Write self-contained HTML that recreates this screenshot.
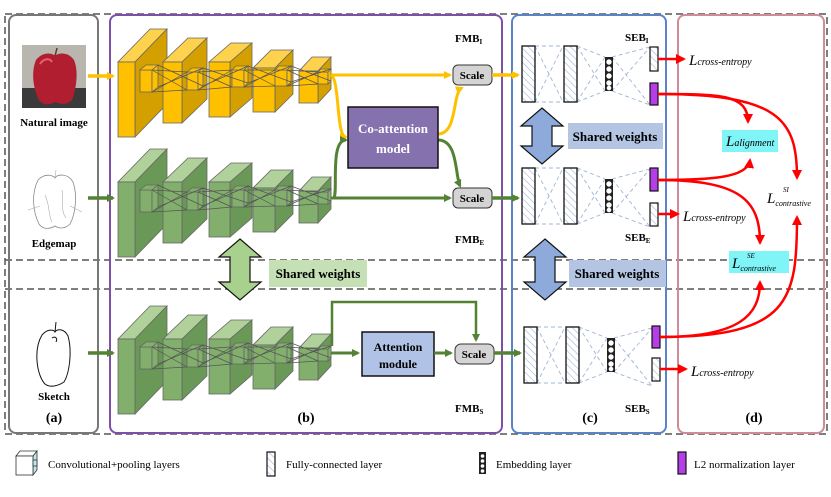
<!DOCTYPE html>
<html><head><meta charset="utf-8"><style>
html,body{margin:0;padding:0;background:#fff}
svg{display:block}
text{font-family:"Liberation Serif",serif}
.b{font-weight:bold}
</style></head><body>
<svg width="831" height="497" viewBox="0 0 831 497" xmlns="http://www.w3.org/2000/svg">
<defs>
<marker id="ay" markerWidth="8" markerHeight="8" refX="6" refY="4" orient="auto" markerUnits="userSpaceOnUse"><path d="M0,0 L8,4 L0,8 Z" fill="#ffc000"/></marker>
<marker id="ag" markerWidth="8" markerHeight="8" refX="6" refY="4" orient="auto" markerUnits="userSpaceOnUse"><path d="M0,0 L8,4 L0,8 Z" fill="#548235"/></marker>
<marker id="ar" markerWidth="10" markerHeight="10" refX="8" refY="5" orient="auto" markerUnits="userSpaceOnUse"><path d="M0,0 L10,5 L0,10 Z" fill="#ff0000"/></marker>
<pattern id="hatch" width="5" height="5" patternUnits="userSpaceOnUse" patternTransform="rotate(-45)"><rect width="5" height="5" fill="#fff"/><line x1="0" y1="0" x2="0" y2="5" stroke="#9fb4d8" stroke-width="1.2"/></pattern>
<g id="blocks" stroke="#666" stroke-width="0.8">
 <polygon points="118,62 135,62 167,29 150,29" style="fill:var(--t)"/><polygon points="135,62 167,29 167,104 135,137" style="fill:var(--s)"/><rect x="118" y="62" width="17" height="75" style="fill:var(--f)"/>
 <polygon points="163,62 182,62 207,38 188,38" style="fill:var(--t)"/><polygon points="182,62 207,38 207,99 182,123" style="fill:var(--s)"/><rect x="163" y="62" width="19" height="61" style="fill:var(--f)"/>
 <polygon points="209,62 230,62 252,43 231,43" style="fill:var(--t)"/><polygon points="230,62 252,43 252,98 230,117" style="fill:var(--s)"/><rect x="209" y="62" width="21" height="55" style="fill:var(--f)"/>
 <polygon points="253,68 275,68 293,50 271,50" style="fill:var(--t)"/><polygon points="275,68 293,50 293,94 275,112" style="fill:var(--s)"/><rect x="253" y="68" width="22" height="44" style="fill:var(--f)"/>
 <polygon points="299,71 318,71 331,57 312,57" style="fill:var(--t)"/><polygon points="318,71 331,57 331,89 318,103" style="fill:var(--s)"/><rect x="299" y="71" width="19" height="32" style="fill:var(--f)"/>
 <g style="fill:var(--f)">
 <rect x="140" y="70" width="12" height="22"/><polygon points="140,70 152,70 158,65 146,65"/><polygon points="152,70 158,65 158,87 152,92"/>
 <rect x="187" y="72" width="11" height="18"/><polygon points="187,72 198,72 203,68 192,68"/><polygon points="198,72 203,68 203,86 198,90"/>
 <rect x="232" y="70" width="12" height="17"/><polygon points="232,70 244,70 248,66 236,66"/><polygon points="244,70 248,66 248,83 244,87"/>
 <rect x="275" y="70" width="12" height="16"/><polygon points="275,70 287,70 291,66 279,66"/><polygon points="287,70 291,66 291,82 287,86"/>
 <rect x="318" y="72" width="10" height="12"/><polygon points="318,72 328,72 331,69 321,69"/><polygon points="328,72 331,69 331,81 328,84"/>
 </g>
 <g fill="none" stroke="#555" stroke-width="0.7">
 <path d="M152,70 L187,72 M152,92 L187,90 M152,70 L187,90 M152,92 L187,72 M158,65 L203,86 M158,87 L203,68"/>
 <path d="M198,72 L232,70 M198,90 L232,87 M198,72 L232,87 M198,90 L232,70 M203,68 L248,83 M203,86 L248,66"/>
 <path d="M244,70 L275,70 M244,87 L275,86 M244,70 L275,86 M244,87 L275,70 M248,66 L291,82 M248,83 L291,66"/>
 <path d="M287,70 L318,72 M287,86 L318,84 M287,70 L318,84 M287,86 L318,72 M291,66 L331,81 M291,82 L331,69"/>
 </g>
</g>
<g id="seb">
 <g stroke="#9fb4d8" stroke-width="0.9" stroke-dasharray="4,3" fill="none">
 <path d="M535,46 L563,46 M535,102 L563,102 M535,46 L563,102 M535,102 L563,46"/>
 <path d="M577,46 L605,57 M577,102 L605,91 M577,46 L605,91 M577,102 L605,57"/>
 <path d="M612,57 L650,47 M612,91 L650,105 M612,57 L650,105 M612,91 L650,47"/>
 </g>
 <rect x="522" y="46" width="13" height="56" fill="url(#hatch)" stroke="#111" stroke-width="1.3"/>
 <rect x="564" y="46" width="13" height="56" fill="url(#hatch)" stroke="#111" stroke-width="1.3"/>
 <rect x="605" y="57" width="8" height="34" fill="#222"/>
 <g fill="#fff" stroke="#fff"><circle cx="609" cy="62" r="2.2"/><circle cx="609" cy="69" r="2.2"/><circle cx="609" cy="76" r="2.2"/><circle cx="609" cy="83" r="2.2"/><circle cx="609" cy="88" r="1.8"/></g>
</g>
</defs>

<!-- outer dashed -->
<rect x="5" y="14" width="822" height="420" fill="none" stroke="#555" stroke-width="1.5" stroke-dasharray="7,4"/>
<line x1="5" y1="260" x2="827" y2="260" stroke="#555" stroke-width="1.5" stroke-dasharray="7,4"/>
<line x1="5" y1="289" x2="827" y2="289" stroke="#555" stroke-width="1.5" stroke-dasharray="7,4"/>

<!-- panels -->
<rect x="9" y="15" width="89" height="418" rx="7" fill="none" stroke="#777" stroke-width="2"/>
<rect x="110" y="15" width="392" height="418" rx="7" fill="none" stroke="#7e4fa8" stroke-width="2"/>
<rect x="512" y="15" width="154" height="418" rx="7" fill="none" stroke="#5b83c9" stroke-width="2"/>
<rect x="678" y="15" width="146" height="418" rx="7" fill="none" stroke="#d08a98" stroke-width="2"/>

<!-- images -->
<rect x="22" y="45" width="64" height="63" fill="#b9b6b0"/>
<rect x="22" y="88" width="64" height="20" fill="#3a3a3a"/>
<path d="M36,60 C44,50 54,54 55,56 C57,53 68,51 74,60 C79,72 76,90 72,100 C66,106 60,104 55,102 C50,105 43,106 39,100 C33,88 31,72 36,60 Z" fill="#b01e2f"/>
<path d="M40,64 C44,58 50,58 52,62" stroke="#e86070" stroke-width="2" fill="none"/>
<line x1="55" y1="56" x2="57" y2="48" stroke="#5a3a20" stroke-width="1.5"/>
<text x="54" y="126" font-size="11" text-anchor="middle" class="b">Natural image</text>
<path d="M38,180 C46,172 54,176 55,178 C57,174 68,173 73,182 C78,196 75,215 70,224 C64,230 58,228 55,226 C50,229 43,230 39,224 C33,212 31,194 38,180 Z" fill="none" stroke="#888" stroke-width="0.8"/>
<path d="M55,178 L56,170 M45,195 C50,205 48,215 52,222 M62,190 C64,200 60,210 66,218 M28,210 L40,206 M70,206 L82,212" stroke="#aaa" stroke-width="0.6" fill="none"/>
<text x="54" y="247" font-size="11" text-anchor="middle" class="b">Edgemap</text>
<path d="M42,335 C48,328 54,330 55,332 C57,329 64,328 68,336 C72,350 70,372 64,382 C58,386 50,388 45,384 C37,376 33,350 42,335 Z" fill="none" stroke="#111" stroke-width="1"/>
<path d="M55,332 L56,322 M52,338 C55,336 58,338 56,342" stroke="#111" stroke-width="1" fill="none"/>
<text x="54" y="400" font-size="11" text-anchor="middle" class="b">Sketch</text>
<text x="54" y="422" font-size="14" text-anchor="middle" class="b">(a)</text>

<!-- input arrows -->
<line x1="88" y1="76" x2="113" y2="76" stroke="#ffc000" stroke-width="3.5" marker-end="url(#ay)"/>
<line x1="88" y1="198" x2="113" y2="198" stroke="#548235" stroke-width="3.5" marker-end="url(#ag)"/>
<line x1="88" y1="353" x2="113" y2="353" stroke="#548235" stroke-width="3.5" marker-end="url(#ag)"/>

<!-- blocks -->
<use href="#blocks" style="--f:#ffc000;--s:#d4a000;--t:#ffd24d"/>
<use href="#blocks" transform="translate(0,120)" style="--f:#82b06c;--s:#6a9857;--t:#b0d29a"/>
<use href="#blocks" transform="translate(0,277)" style="--f:#82b06c;--s:#6a9857;--t:#b0d29a"/>

<!-- FMB flows -->
<path d="M331,75 L450,75" stroke="#ffc000" stroke-width="3" fill="none" marker-end="url(#ay)"/>
<path d="M331,75 C340,80 336,137 346,137" stroke="#ffc000" stroke-width="3" fill="none" marker-end="url(#ay)"/>
<path d="M438,134 C458,134 452,92 462,88" stroke="#ffc000" stroke-width="3" fill="none" marker-end="url(#ay)"/>
<path d="M331,198 L450,198" stroke="#548235" stroke-width="3" fill="none" marker-end="url(#ag)"/>
<path d="M334,198 C338,190 330,140 346,140" stroke="#548235" stroke-width="3" fill="none" marker-end="url(#ag)"/>
<path d="M438,140 C458,140 455,175 460,186" stroke="#548235" stroke-width="3" fill="none" marker-end="url(#ag)"/>
<rect x="348" y="107" width="90" height="61" fill="#8571ae" stroke="#111" stroke-width="1.5"/>
<text x="393" y="133" font-size="13" fill="#fff" text-anchor="middle" class="b">Co-attention</text>
<text x="393" y="153" font-size="13" fill="#fff" text-anchor="middle" class="b">model</text>
<rect x="453" y="65" width="39" height="20" rx="5" fill="#d4d4d4" stroke="#333"/>
<text x="472" y="79" font-size="11" text-anchor="middle" class="b">Scale</text>
<rect x="453" y="188" width="39" height="20" rx="5" fill="#d4d4d4" stroke="#333"/>
<text x="472" y="202" font-size="11" text-anchor="middle" class="b">Scale</text>
<text x="455" y="42" font-size="11" class="b">FMB<tspan font-size="7" dy="2">I</tspan></text>
<text x="455" y="243" font-size="11" class="b">FMB<tspan font-size="7" dy="2">E</tspan></text>

<!-- shared weights (b) -->
<polygon points="240,239 261,257 250,257 250,282 261,282 240,300 219,282 230,282 230,257 219,257" fill="#a9d18e" stroke="#111" stroke-width="1.2"/>
<rect x="269" y="260" width="98" height="27" fill="#c5e0b4"/>
<text x="318" y="278" font-size="13" text-anchor="middle" class="b">Shared weights</text>

<!-- sketch flow -->
<path d="M332,346 L332,302 L476,302 L476,340" stroke="#548235" stroke-width="2.5" fill="none" marker-end="url(#ag)"/>
<line x1="331" y1="353" x2="358" y2="353" stroke="#548235" stroke-width="3" marker-end="url(#ag)"/>
<rect x="362" y="332" width="72" height="44" fill="#b0c3e6" stroke="#111" stroke-width="1.5"/>
<text x="398" y="351" font-size="12" text-anchor="middle" class="b">Attention</text>
<text x="398" y="368" font-size="12" text-anchor="middle" class="b">module</text>
<line x1="434" y1="353" x2="451" y2="353" stroke="#548235" stroke-width="3" marker-end="url(#ag)"/>
<rect x="455" y="344" width="39" height="20" rx="6" fill="#d4d4d4" stroke="#333"/>
<text x="474" y="358" font-size="11" text-anchor="middle" class="b">Scale</text>
<text x="455" y="412" font-size="11" class="b">FMB<tspan font-size="7" dy="2">S</tspan></text>
<text x="306" y="422" font-size="14" text-anchor="middle" class="b">(b)</text>

<!-- outputs to SEB -->
<line x1="492" y1="75" x2="518" y2="75" stroke="#ffc000" stroke-width="3.5" marker-end="url(#ay)"/>
<line x1="492" y1="198" x2="518" y2="198" stroke="#548235" stroke-width="3.5" marker-end="url(#ag)"/>
<line x1="494" y1="353" x2="520" y2="353" stroke="#548235" stroke-width="3.5" marker-end="url(#ag)"/>

<!-- SEB -->
<use href="#seb"/>
<rect x="650" y="47" width="8" height="24" fill="url(#hatch)" stroke="#111" stroke-width="1.2"/>
<rect x="650" y="83" width="8" height="22" fill="#b63ee8" stroke="#111" stroke-width="1.2"/>
<use href="#seb" transform="translate(0,122)"/>
<rect x="650" y="168" width="8" height="23" fill="#b63ee8" stroke="#111" stroke-width="1.2"/>
<rect x="650" y="203" width="8" height="23" fill="url(#hatch)" stroke="#111" stroke-width="1.2"/>
<use href="#seb" transform="translate(2,281)"/>
<rect x="652" y="326" width="8" height="22" fill="#b63ee8" stroke="#111" stroke-width="1.2"/>
<rect x="652" y="358" width="8" height="23" fill="url(#hatch)" stroke="#111" stroke-width="1.2"/>
<text x="625" y="41" font-size="11" class="b">SEB<tspan font-size="7" dy="2">I</tspan></text>
<text x="625" y="241" font-size="11" class="b">SEB<tspan font-size="7" dy="2">E</tspan></text>
<text x="625" y="412" font-size="11" class="b">SEB<tspan font-size="7" dy="2">S</tspan></text>
<text x="590" y="422" font-size="14" text-anchor="middle" class="b">(c)</text>

<polygon points="542,108 563,126 552,126 552,146 563,146 542,164 521,146 532,146 532,126 521,126" fill="#8eaadb" stroke="#111" stroke-width="1.2"/>
<rect x="568" y="123" width="95" height="26" fill="#b4c5e4"/>
<text x="615" y="141" font-size="13" text-anchor="middle" class="b">Shared weights</text>
<polygon points="545,239 566,257 555,257 555,282 566,282 545,300 524,282 535,282 535,257 524,257" fill="#8eaadb" stroke="#111" stroke-width="1.2"/>
<rect x="569" y="260" width="97" height="27" fill="#b4c5e4"/>
<text x="617" y="278" font-size="13" text-anchor="middle" class="b">Shared weights</text>

<!-- losses -->
<line x1="658" y1="59" x2="684" y2="59" stroke="#f00" stroke-width="2.5" marker-end="url(#ar)"/>
<line x1="658" y1="214" x2="678" y2="214" stroke="#f00" stroke-width="2.5" marker-end="url(#ar)"/>
<line x1="660" y1="369" x2="686" y2="369" stroke="#f00" stroke-width="2.5" marker-end="url(#ar)"/>
<text x="689" y="65" font-size="15" font-style="italic">L<tspan font-size="10">cross-entropy</tspan></text>
<text x="683" y="221" font-size="15" font-style="italic">L<tspan font-size="10">cross-entropy</tspan></text>
<text x="691" y="376" font-size="15" font-style="italic">L<tspan font-size="10">cross-entropy</tspan></text>

<rect x="722" y="130" width="56" height="22" fill="#7ff5f8"/>
<text x="726" y="146" font-size="15" font-style="italic">L<tspan font-size="10">alignment</tspan></text>
<rect x="729" y="251" width="60" height="22" fill="#7ff5f8"/>
<text x="732" y="268" font-size="15" font-style="italic">L<tspan font-size="8" dy="3">contrastive</tspan></text>
<text x="747" y="258" font-size="7" font-style="italic">SE</text>
<text x="767" y="203" font-size="15" font-style="italic">L<tspan font-size="8" dy="3">contrastive</tspan></text>
<text x="783" y="192" font-size="7" font-style="italic">SI</text>

<g stroke="#f00" stroke-width="2.5" fill="none">
<path d="M658,94 C720,94 748,94 748,122" marker-end="url(#ar)"/>
<path d="M658,94 C780,94 797,120 797,178" marker-end="url(#ar)"/>
<path d="M658,180 C710,180 748,178 750,160" marker-end="url(#ar)"/>
<path d="M658,180 C740,180 760,200 760,243" marker-end="url(#ar)"/>
<path d="M660,337 C740,337 760,315 760,282" marker-end="url(#ar)"/>
<path d="M660,337 C790,337 797,300 797,217" marker-end="url(#ar)"/>
</g>
<text x="754" y="422" font-size="14" text-anchor="middle" class="b">(d)</text>

<!-- legend -->
<g stroke="#333" stroke-width="0.8">
<polygon points="16,456 20,451 37,451 33,456" fill="#fff"/>
<polygon points="33,456 37,451 37,470 33,475" fill="#bfe6f0"/>
<rect x="16" y="456" width="17" height="19" fill="#fff"/>
<rect x="33" y="460" width="4" height="6" fill="#bfe6f0"/>
</g>
<text x="48" y="468" font-size="11">Convolutional+pooling layers</text>
<rect x="267" y="452" width="8" height="24" fill="url(#hatch)" stroke="#111" stroke-width="1.2"/>
<text x="286" y="468" font-size="11">Fully-connected layer</text>
<rect x="479" y="452" width="7" height="22" fill="#222"/>
<g fill="#fff"><circle cx="482.5" cy="456" r="1.8"/><circle cx="482.5" cy="461" r="1.8"/><circle cx="482.5" cy="466" r="1.8"/><circle cx="482.5" cy="471" r="1.8"/></g>
<text x="496" y="468" font-size="11">Embedding layer</text>
<rect x="678" y="452" width="8" height="22" fill="#b63ee8" stroke="#111" stroke-width="1.2"/>
<text x="694" y="468" font-size="11">L2 normalization layer</text>
</svg>
</body></html>
